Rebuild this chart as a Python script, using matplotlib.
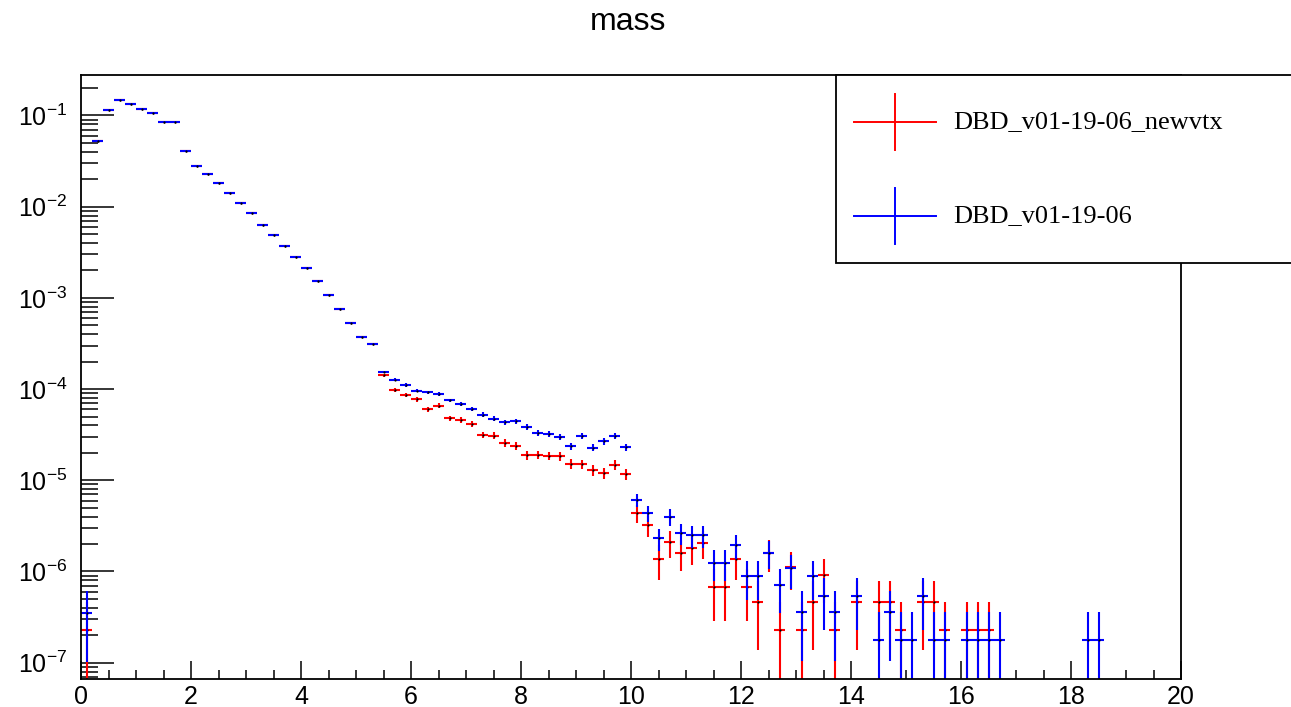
import numpy as np
import matplotlib
matplotlib.use("Agg")
import matplotlib.pyplot as plt
from matplotlib.lines import Line2D
from matplotlib.patches import Rectangle
from matplotlib.ticker import MultipleLocator, LogFormatterMathtext, NullFormatter

plt.rcParams['font.family'] = ['Liberation Sans', 'DejaVu Sans']
plt.rcParams['mathtext.fontset'] = 'custom'
plt.rcParams['mathtext.rm'] = 'Liberation Sans'
plt.rcParams['mathtext.it'] = 'Liberation Sans:italic'
plt.rcParams['mathtext.bf'] = 'Liberation Sans:bold'

# bin centres (bin width 0.2) and normalised contents
bin_width = 0.2

newvtx_x = [0.1, 0.3, 0.5, 0.7, 0.9, 1.1, 1.3, 1.5, 1.7, 1.9,
            2.1, 2.3, 2.5, 2.7, 2.9, 3.1, 3.3, 3.5, 3.7, 3.9,
            4.1, 4.3, 4.5, 4.7, 4.9, 5.1, 5.3, 5.5, 5.7, 5.9,
            6.1, 6.3, 6.5, 6.7, 6.9, 7.1, 7.3, 7.5, 7.7, 7.9,
            8.1, 8.3, 8.5, 8.7, 8.9, 9.1, 9.3, 9.5, 9.7, 9.9,
            10.1, 10.3, 10.5, 10.7, 10.9, 11.1, 11.3, 11.5, 11.7, 11.9,
            12.1, 12.3, 12.5, 12.7, 12.9, 13.1, 13.3, 13.5, 13.7, 14.1,
            14.5, 14.7, 14.9, 15.3, 15.5, 15.7, 16.1, 16.3, 16.5]
newvtx_y = [2.29e-7, 0.0525, 0.115, 0.148, 0.133, 0.117, 0.106, 0.0855, 0.0855, 0.0411,
            0.0282, 0.0227, 0.0181, 0.0140, 0.0109, 0.00847, 0.00631, 0.00486, 0.00371, 0.00279,
            0.00211, 0.00152, 0.00108, 7.5e-4, 5.3e-4, 3.7e-4, 3.15e-4, 1.42e-4, 9.8e-5, 8.55e-5,
            7.7e-5, 6.0e-5, 6.6e-5, 4.8e-5, 4.6e-5, 4.14e-5, 3.14e-5, 3.08e-5, 2.58e-5, 2.38e-5,
            1.88e-5, 1.91e-5, 1.86e-5, 1.85e-5, 1.52e-5, 1.5e-5, 1.3e-5, 1.2e-5, 1.48e-5, 1.18e-5,
            4.42e-6, 3.24e-6, 1.37e-6, 2.09e-6, 1.61e-6, 1.82e-6, 2.07e-6, 6.8e-7, 6.8e-7, 1.37e-6,
            6.8e-7, 4.6e-7, 1.6e-6, 2.29e-7, 1.13e-6, 2.29e-7, 4.6e-7, 9.1e-7, 2.29e-7, 4.6e-7,
            4.6e-7, 4.6e-7, 2.29e-7, 4.6e-7, 4.6e-7, 2.29e-7, 2.29e-7, 2.29e-7, 2.29e-7]
newvtx_w = 2.28e-7   # weight of one entry

old_x = [0.1, 0.3, 0.5, 0.7, 0.9, 1.1, 1.3, 1.5, 1.7, 1.9,
         2.1, 2.3, 2.5, 2.7, 2.9, 3.1, 3.3, 3.5, 3.7, 3.9,
         4.1, 4.3, 4.5, 4.7, 4.9, 5.1, 5.3, 5.5, 5.7, 5.9,
         6.1, 6.3, 6.5, 6.7, 6.9, 7.1, 7.3, 7.5, 7.7, 7.9,
         8.1, 8.3, 8.5, 8.7, 8.9, 9.1, 9.3, 9.5, 9.7, 9.9,
         10.1, 10.3, 10.5, 10.7, 10.9, 11.1, 11.3, 11.5, 11.7, 11.9,
         12.1, 12.3, 12.5, 12.7, 12.9, 13.1, 13.3, 13.5, 13.7, 14.1,
         14.5, 14.7, 14.9, 15.1, 15.3, 15.5, 15.7, 16.1, 16.3, 16.5,
         16.7, 18.3, 18.5]
old_y = [3.53e-7, 0.0525, 0.115, 0.148, 0.133, 0.117, 0.106, 0.0855, 0.0855, 0.0411,
         0.0282, 0.0227, 0.0181, 0.0140, 0.0109, 0.00847, 0.00631, 0.00486, 0.00371, 0.00279,
         0.00211, 0.00152, 0.00108, 7.5e-4, 5.3e-4, 3.7e-4, 3.15e-4, 1.54e-4, 1.26e-4, 1.11e-4,
         9.6e-5, 9.2e-5, 8.8e-5, 7.5e-5, 6.8e-5, 6.1e-5, 5.24e-5, 4.73e-5, 4.35e-5, 4.46e-5,
         3.84e-5, 3.33e-5, 3.19e-5, 3.0e-5, 2.36e-5, 3.06e-5, 2.28e-5, 2.67e-5, 3.06e-5, 2.32e-5,
         6.08e-6, 4.35e-6, 2.31e-6, 3.99e-6, 2.66e-6, 2.49e-6, 2.49e-6, 1.25e-6, 1.25e-6, 1.95e-6,
         8.9e-7, 8.9e-7, 1.61e-6, 7.1e-7, 1.08e-6, 3.57e-7, 8.9e-7, 5.4e-7, 3.57e-7, 5.4e-7,
         1.78e-7, 3.57e-7, 1.78e-7, 1.78e-7, 5.4e-7, 1.78e-7, 1.78e-7, 1.78e-7, 1.78e-7, 1.78e-7,
         1.78e-7, 1.78e-7, 1.78e-7]
old_w = 1.78e-7

fig = plt.figure(figsize=(12.91, 7.07), dpi=100)
ax = fig.add_axes([81 / 1291, 1 - 679 / 707, 1100 / 1291, 604 / 707])


def draw_hist(x, y, w, color):
    x = np.array(x)
    y = np.array(y)
    err = np.sqrt(y * w)          # sqrt(N) * weight
    lo = np.maximum(y - err, 1e-10)
    ax.errorbar(x, y, xerr=bin_width / 2, yerr=[y - lo, err], fmt='none',
                ecolor=color, elinewidth=1.5, capsize=0)
    ax.plot(x, y, ls='none', marker='o', ms=1.6, color='black', mew=0)


draw_hist(newvtx_x, newvtx_y, newvtx_w, 'red')
draw_hist(old_x, old_y, old_w, 'blue')

ymin, ymax = 6.62e-8, 0.278
ax.set_yscale('log')
ax.set_xlim(0, 20)
ax.set_ylim(ymin, ymax)

ax.xaxis.set_major_locator(MultipleLocator(2))
ax.xaxis.set_minor_locator(MultipleLocator(0.5))
decades = [10.0 ** k for k in range(-7, 0)]
minors = [m * 10.0 ** k for k in range(-8, 0) for m in range(2, 10)
          if ymin < m * 10.0 ** k < ymax]
ax.set_yticks(decades)
ax.set_yticks(minors, minor=True)
ax.yaxis.set_major_formatter(LogFormatterMathtext())
ax.yaxis.set_minor_formatter(NullFormatter())

ax.tick_params(axis='x', which='major', direction='in', length=13, width=1.1,
               labelsize=18, pad=4, top=False)
ax.tick_params(axis='x', which='minor', direction='in', length=6.5, width=1.1, top=False)
ax.tick_params(axis='y', which='major', direction='in', length=24, width=1.1,
               labelsize=18, pad=10, right=False)
ax.tick_params(axis='y', which='minor', direction='in', length=12, width=1.1, right=False)
for s in ax.spines.values():
    s.set_linewidth(1.3)

fig.text(628 / 1291, 1 - 22 / 707, 'mass', ha='center', va='center', fontsize=23)

# legend box, drawn in figure pixels like the ROOT TLegend
W, H = 1291.0, 707.0
fig.patches.append(Rectangle((836 / W, 1 - 263 / H), 460 / W, 188 / H,
                             transform=fig.transFigure, facecolor='white',
                             edgecolor='black', linewidth=1.3, zorder=5))
entries = [('DBD_v01-19-06_newvtx', 'red', 122), ('DBD_v01-19-06', 'blue', 216)]
for label, color, yc in entries:
    fig.lines.append(Line2D([854 / W, 936 / W], [1 - yc / H, 1 - yc / H],
                            transform=fig.transFigure, color=color, lw=1.4, zorder=6))
    fig.lines.append(Line2D([895 / W, 895 / W], [1 - (yc - 28) / H, 1 - (yc + 28) / H],
                            transform=fig.transFigure, color=color, lw=1.4, zorder=6))
    fig.text(953 / W, 1 - yc / H, label, ha='left', va='center', fontsize=19,
             family=['Liberation Serif', 'DejaVu Serif'], zorder=7)

fig.savefig('out.png', dpi=100)
